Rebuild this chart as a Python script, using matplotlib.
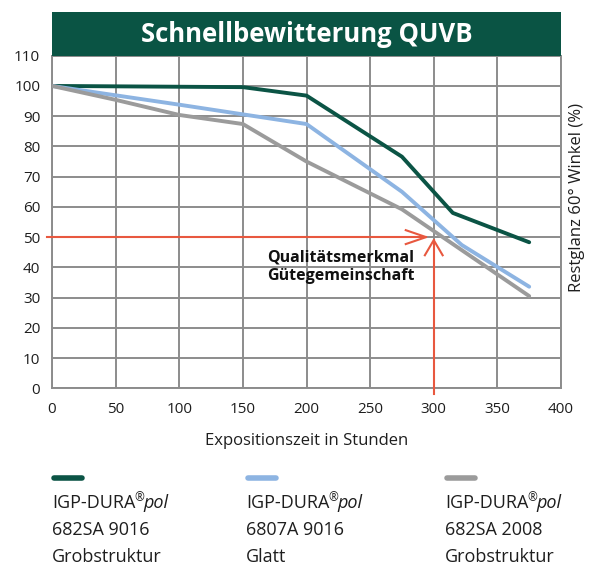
import matplotlib
matplotlib.use("Agg")
import matplotlib.pyplot as plt
from matplotlib.patches import Rectangle

plt.rcParams["font.family"] = ["Open Sans", "DejaVu Sans"]

# data
hours_green = [0, 150, 200, 275, 315, 375]
gloss_green = [100, 99.6, 96.8, 76.6, 58.0, 48.3]
hours_blue = [0, 100, 150, 200, 275, 322, 375]
gloss_blue = [100, 93.8, 90.6, 87.4, 65.0, 47.4, 33.6]
hours_gray = [0, 50, 100, 150, 200, 275, 322, 375]
gloss_gray = [100, 95.4, 90.4, 87.4, 75.0, 59.2, 45.7, 30.5]

limit_hours = 300
limit_gloss = 50

legend_names = ["IGP-DURA", "IGP-DURA", "IGP-DURA"]
legend_codes = ["682SA 9016", "6807A 9016", "682SA 2008"]
legend_types = ["Grobstruktur", "Glatt", "Grobstruktur"]

GREEN = "#0b5445"
BLUE = "#8db4e2"
GRAY = "#9b9b9b"
RED = "#e8583f"
GRID = "#8c8c8c"
TXT = "#1e1e1e"

fig = plt.figure(figsize=(5.92, 5.66), dpi=100)
W, H = 592, 566
ax = fig.add_axes([52 / W, 1 - 388.3 / H, (561 - 52) / W, (388.3 - 55.7) / H])

ax.set_xlim(0, 400)
ax.set_ylim(0, 110)
ax.set_xticks(range(0, 401, 50))
ax.set_yticks(range(0, 111, 10))
ax.grid(True, color=GRID, lw=1.4)
ax.set_axisbelow(True)
for s in ax.spines.values():
    s.set_color(GRID)
    s.set_linewidth(1.4)
ax.tick_params(axis="x", length=0, labelsize=11, colors=TXT, pad=10)
ax.tick_params(axis="y", length=0, labelsize=11, colors=TXT, pad=8.5)

# limit marker (red arrows)
ax.plot([-4, limit_hours - 6], [limit_gloss, limit_gloss], color=RED, lw=1.5, clip_on=False, zorder=3)
ax.plot([limit_hours, limit_hours], [-2, limit_gloss - 1], color=RED, lw=1.5, clip_on=False, zorder=3)
ax.plot([limit_hours - 22, limit_hours - 6, limit_hours - 22], [limit_gloss + 2.3, limit_gloss, limit_gloss - 2.3],
        color=RED, lw=1.5, zorder=3)
ax.plot([limit_hours - 7, limit_hours, limit_hours + 7], [limit_gloss - 6, limit_gloss - 1, limit_gloss - 6],
        color=RED, lw=1.5, zorder=3)

ax.plot(hours_green, gloss_green, color=GREEN, lw=2.8, solid_capstyle="round", zorder=4)
ax.plot(hours_blue, gloss_blue, color=BLUE, lw=2.8, solid_capstyle="round", zorder=4)
ax.plot(hours_gray, gloss_gray, color=GRAY, lw=2.8, solid_capstyle="round", zorder=4)

ax.text(169, 43.3, "Qualitätsmerkmal", fontsize=11.5, fontweight="bold", color="#111111", va="center")
ax.text(169, 37.0, "Gütegemeinschaft", fontsize=11.5, fontweight="bold", color="#111111", va="center")

fig.text(307 / W, 1 - 441 / H, "Expositionszeit in Stunden", ha="center", va="center", fontsize=12, color=TXT)
fig.text(577 / W, 1 - 197 / H, "Restglanz 60° Winkel (%)", rotation=90, ha="center", va="center",
         fontsize=12, color=TXT)

# title bar
fig.patches.append(Rectangle((52 / W, 1 - 55.7 / H), (561 - 52) / W, 44 / H, transform=fig.transFigure,
                             facecolor="#0a5444", edgecolor="none"))
fig.text(307 / W, 1 - 34 / H, "Schnellbewitterung QUVB", ha="center", va="center",
         fontsize=18.5, fontweight="bold", color="white")

# legend below the chart
fig.canvas.draw()
rend = fig.canvas.get_renderer()
for i, (name, code, kind, col) in enumerate(zip(legend_names, legend_codes, legend_types, [GREEN, BLUE, GRAY])):
    x0 = [52, 246, 445][i]
    fig.add_artist(plt.Line2D([(x0 + 2) / W, (x0 + 30) / W], [1 - 478 / H, 1 - 478 / H],
                              color=col, lw=4, solid_capstyle="round", transform=fig.transFigure))
    t = fig.text(x0 / W, 1 - 503 / H, name, fontsize=13, color=TXT, va="center")
    bb = t.get_window_extent(renderer=rend)
    r = fig.text((bb.x1 - 1) / W, 1 - 498 / H, "\u00ae", fontsize=8.5, color=TXT, va="center")
    bb2 = r.get_window_extent(renderer=rend)
    fig.text((bb2.x1 - 1) / W, 1 - 503 / H, "pol", fontsize=13, style="italic", color=TXT, va="center")
    fig.text(x0 / W, 1 - 530 / H, code, fontsize=13, color=TXT, va="center")
    fig.text(x0 / W, 1 - 557 / H, kind, fontsize=13, color=TXT, va="center")

fig.savefig("out.png", dpi=100)
